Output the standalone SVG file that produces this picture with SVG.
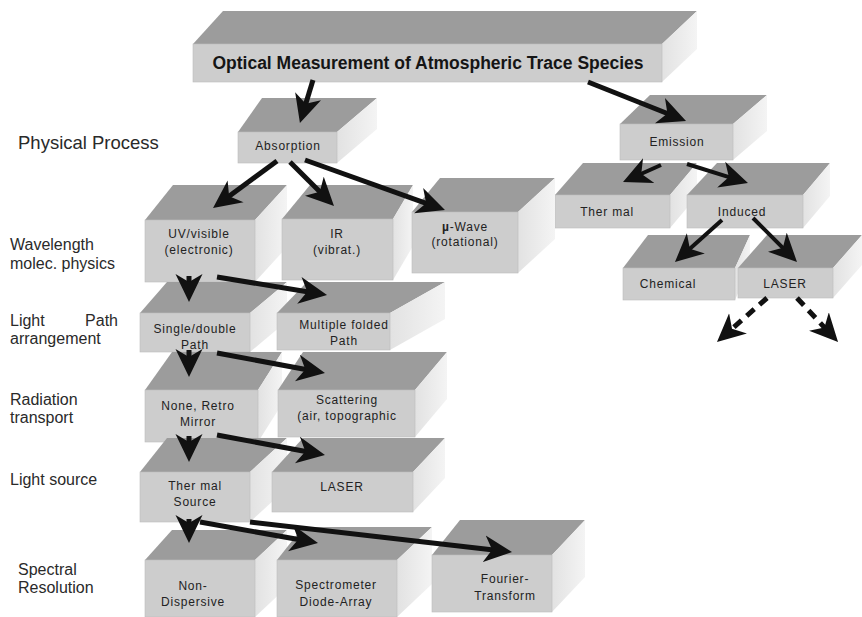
<svg xmlns="http://www.w3.org/2000/svg" width="862" height="617" viewBox="0 0 862 617">
<defs>
<linearGradient id="sideG" x1="0" y1="0" x2="1" y2="0">
<stop offset="0" stop-color="#e2e2e2"/>
<stop offset="1" stop-color="#f4f4f4"/>
</linearGradient>
<marker id="ah" viewBox="0 -14 28 28" refX="14" refY="0" markerWidth="28" markerHeight="28" markerUnits="userSpaceOnUse" orient="auto">
<path d="M0,-13.5 L28,0 L0,13.5 L8,0 Z" fill="#111"/>
</marker>
</defs>
<style>
.front{fill:#cdcdcd;stroke:#bdbdbd;stroke-width:0.6}
.top{fill:#9c9c9c}
.side{fill:url(#sideG)}
.lbl{font-family:"Liberation Sans",Arial,sans-serif;font-size:12px;letter-spacing:0.8px;fill:#222;text-anchor:middle}
.row{font-family:"Liberation Sans",Arial,sans-serif;font-size:16px;fill:#2a2a2a}
.title{font-family:"Liberation Sans",Arial,sans-serif;font-size:17.5px;font-weight:bold;fill:#151515;text-anchor:middle}
.arr{stroke:#111;stroke-width:5;fill:none;marker-end:url(#ah)}
.arr4{stroke:#111;stroke-width:4;fill:none;marker-end:url(#ah)}
.dash{stroke:#111;stroke-width:5;fill:none;stroke-dasharray:10 7;marker-end:url(#ah)}
</style>
<rect width="862" height="617" fill="#ffffff"/>

<g id="row-labels">
<text class="row" x="18" y="149" style="font-size:18.5px">Physical Process</text>
<text class="row" x="10" y="250">Wavelength</text>
<text class="row" x="10" y="269">molec. physics</text>
<text class="row" x="10" y="326">Light</text>
<text class="row" x="118" y="326" text-anchor="end">Path</text>
<text class="row" x="10" y="344">arrangement</text>
<text class="row" x="10" y="405">Radiation</text>
<text class="row" x="10" y="423">transport</text>
<text class="row" x="10" y="485">Light source</text>
<text class="row" x="18" y="575">Spectral</text>
<text class="row" x="18" y="593">Resolution</text>
</g>

<g id="n-title">
<polygon class="top" points="193,44 223,11 697,11 662,44"/>
<polygon class="side" points="662,44 697,11 697,49 662,82"/>
<rect class="front" x="193" y="44" width="469" height="38"/>
<text class="title" x="428" y="69">Optical Measurement of Atmospheric Trace Species</text>
</g>

<g id="n-absorption">
<polygon class="top" points="238,132 262,98 377,98 337,132"/>
<polygon class="side" points="337,132 377,98 377,129 337,163"/>
<rect class="front" x="238" y="132" width="99" height="31"/>
<text class="lbl" x="288" y="150">Absorption</text>
</g>

<g id="n-emission">
<polygon class="top" points="620,124 650,95 767,95 733,124"/>
<polygon class="side" points="733,124 767,95 767,131 733,160"/>
<rect class="front" x="620" y="124" width="113" height="36"/>
<text class="lbl" x="677" y="146">Emission</text>
</g>

<g id="n-thermal-em">
<polygon class="top" points="555,195 583,163 697,163 670,195"/>
<polygon class="side" points="670,195 697,163 697,196 670,228"/>
<rect class="front" x="555" y="195" width="115" height="33"/>
<text class="lbl" x="607" y="216">Ther mal</text>
</g>

<g id="n-induced">
<polygon class="top" points="687,195 717,163 830,163 803,195"/>
<polygon class="side" points="803,195 830,163 830,196 803,228"/>
<rect class="front" x="687" y="195" width="116" height="33"/>
<text class="lbl" x="742" y="216">Induced</text>
</g>

<g id="n-uv">
<polygon class="top" points="145,220 173,185 287,185 255,220"/>
<polygon class="side" points="255,220 287,185 287,247 255,282"/>
<rect class="front" x="145" y="220" width="110" height="62"/>
<text class="lbl" x="199" y="238">UV/visible</text>
<text class="lbl" x="199" y="254">(electronic)</text>
</g>

<g id="n-ir">
<polygon class="top" points="282,219 310,185 413,185 393,219"/>
<polygon class="side" points="393,219 413,185 413,246 393,280"/>
<rect class="front" x="282" y="219" width="111" height="61"/>
<text class="lbl" x="337" y="238">IR</text>
<text class="lbl" x="337" y="254">(vibrat.)</text>
</g>

<g id="n-uwave">
<polygon class="top" points="412,212 440,178 555,178 518,212"/>
<polygon class="side" points="518,212 555,178 555,239 518,273"/>
<rect class="front" x="412" y="212" width="106" height="61"/>
<text class="lbl" x="465" y="231"><tspan font-weight="bold">µ</tspan>-Wave</text>
<text class="lbl" x="465" y="246">(rotational)</text>
</g>

<g id="n-chemical">
<polygon class="top" points="623,268 648,235 750,235 735,268"/>
<polygon class="side" points="735,268 750,235 750,267 735,300"/>
<rect class="front" x="623" y="268" width="112" height="32"/>
<text class="lbl" x="668" y="288">Chemical</text>
</g>

<g id="n-laser-em">
<polygon class="top" points="738,268 767,235 862,235 833,268"/>
<polygon class="side" points="833,268 862,235 862,265 833,298"/>
<rect class="front" x="738" y="268" width="95" height="30"/>
<text class="lbl" x="785" y="288">LASER</text>
</g>

<g id="n-single">
<polygon class="top" points="140,313 167,282 287,282 250,313"/>
<polygon class="side" points="250,313 287,282 287,321 250,352"/>
<rect class="front" x="140" y="313" width="110" height="39"/>
<text class="lbl" x="195" y="333">Single/double</text>
<text class="lbl" x="195" y="349">Path</text>
</g>

<g id="n-multiple">
<polygon class="top" points="277,313 307,282 445,282 390,313"/>
<polygon class="side" points="390,313 445,282 445,319 390,350"/>
<rect class="front" x="277" y="313" width="113" height="37"/>
<text class="lbl" x="344" y="329">Multiple folded</text>
<text class="lbl" x="344" y="345">Path</text>
</g>

<g id="n-none">
<polygon class="top" points="145,390 172,352 282,352 258,390"/>
<polygon class="side" points="258,390 282,352 282,404 258,442"/>
<rect class="front" x="145" y="390" width="113" height="52"/>
<text class="lbl" x="198" y="410">None, Retro</text>
<text class="lbl" x="198" y="426">Mirror</text>
</g>

<g id="n-scattering">
<polygon class="top" points="278,390 303,352 447,352 415,390"/>
<polygon class="side" points="415,390 447,352 447,399 415,437"/>
<rect class="front" x="278" y="390" width="137" height="47"/>
<text class="lbl" x="347" y="404">Scattering</text>
<text class="lbl" x="347" y="420">(air, topographic</text>
</g>

<g id="n-thermal-source">
<polygon class="top" points="140,472 167,438 287,438 250,472"/>
<polygon class="side" points="250,472 287,438 287,488 250,522"/>
<rect class="front" x="140" y="472" width="110" height="50"/>
<text class="lbl" x="195" y="490">Ther mal</text>
<text class="lbl" x="195" y="506">Source</text>
</g>

<g id="n-laser">
<polygon class="top" points="272,472 303,438 445,438 413,472"/>
<polygon class="side" points="413,472 445,438 445,478 413,512"/>
<rect class="front" x="272" y="472" width="141" height="40"/>
<text class="lbl" x="342" y="491">LASER</text>
</g>

<g id="n-nondispersive">
<polygon class="top" points="145,560 172,530 287,530 255,560"/>
<polygon class="side" points="255,560 287,530 287,587 255,617"/>
<rect class="front" x="145" y="560" width="110" height="57"/>
<text class="lbl" x="193" y="590">Non-</text>
<text class="lbl" x="193" y="606">Dispersive</text>
</g>

<g id="n-spectrometer">
<polygon class="top" points="277,560 303,527 432,527 397,560"/>
<polygon class="side" points="397,560 432,527 432,584 397,617"/>
<rect class="front" x="277" y="560" width="120" height="57"/>
<text class="lbl" x="336" y="589">Spectrometer</text>
<text class="lbl" x="336" y="606">Diode-Array</text>
</g>

<g id="n-fourier">
<polygon class="top" points="432,555 460,520 585,520 552,555"/>
<polygon class="side" points="552,555 585,520 585,577 552,612"/>
<rect class="front" x="432" y="555" width="120" height="57"/>
<text class="lbl" x="505" y="583">Fourier-</text>
<text class="lbl" x="505" y="600">Transform</text>
</g>

<g id="connectors">
<line class="arr" x1="313" y1="80" x2="304" y2="109.6"/>
<line class="arr" x1="588" y1="82" x2="673" y2="115.8"/>
<line class="arr" x1="277" y1="161" x2="224.3" y2="199.7"/>
<line class="arr" x1="290" y1="162" x2="324.1" y2="196.1"/>
<line class="arr" x1="305" y1="160" x2="431.8" y2="205.3"/>
<line class="arr4" x1="661" y1="165" x2="635.8" y2="176.3"/>
<line class="arr4" x1="687" y1="164" x2="734.6" y2="178.8"/>
<line class="arr4" x1="722" y1="220" x2="685.4" y2="252.7"/>
<line class="arr4" x1="753" y1="218" x2="787.1" y2="252.1"/>
<line class="dash" x1="767" y1="298" x2="727.5" y2="332.7"/>
<line class="dash" x1="797" y1="298" x2="828.5" y2="331.8"/>
<line class="arr" x1="189" y1="276" x2="189" y2="288"/>
<line class="arr" x1="217" y1="277" x2="313.2" y2="292.7"/>
<line class="arr" x1="189" y1="350" x2="189" y2="363"/>
<line class="arr" x1="217" y1="353" x2="311.2" y2="370.5"/>
<line class="arr" x1="189" y1="436" x2="189" y2="448"/>
<line class="arr" x1="217" y1="435" x2="311.2" y2="452.5"/>
<line class="arr" x1="189" y1="519" x2="189" y2="529"/>
<line class="arr" x1="200" y1="522" x2="304.2" y2="540.5"/>
<line class="arr" x1="250" y1="522" x2="498.1" y2="550.4"/>
</g>
</svg>
